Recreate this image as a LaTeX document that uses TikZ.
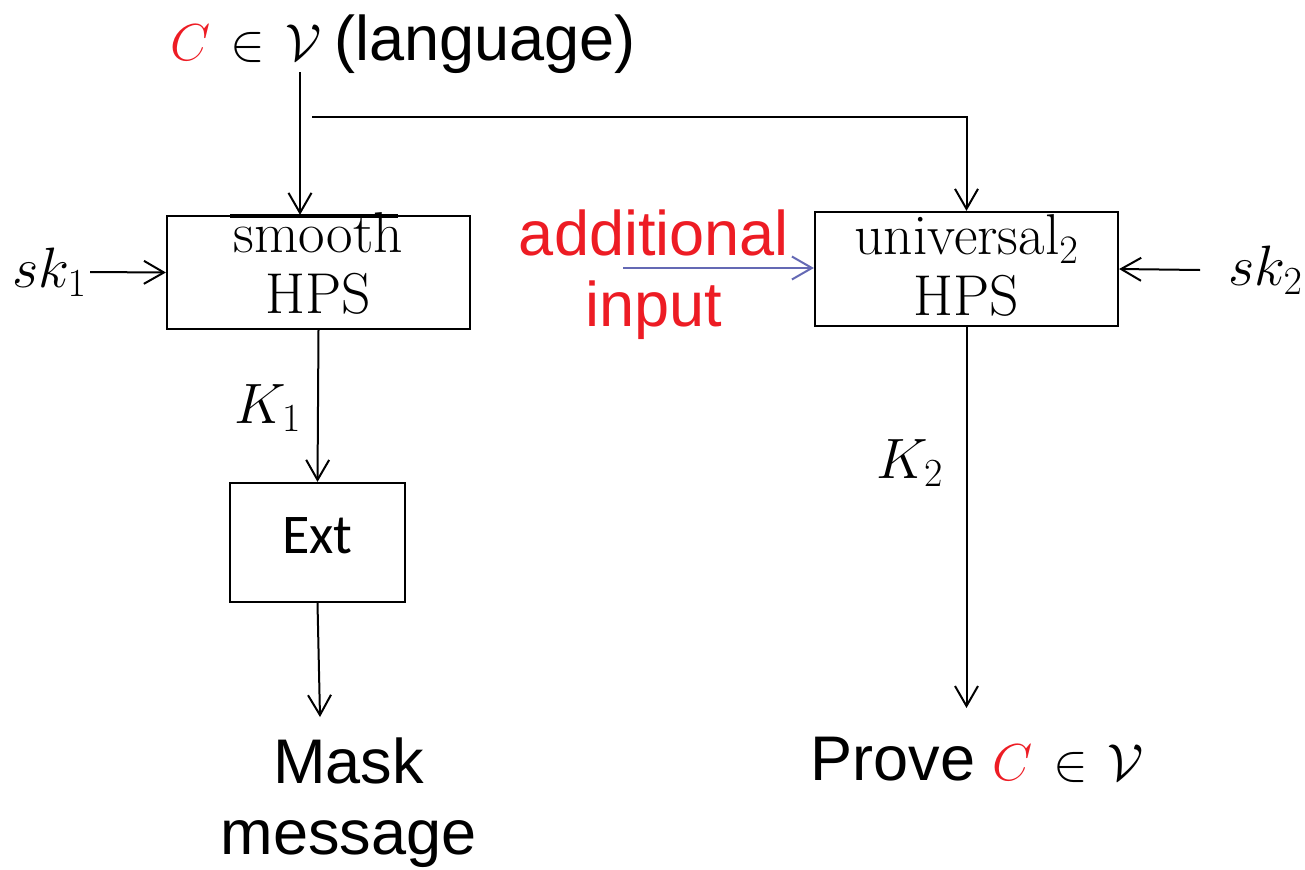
\RequirePackage{fix-cm}
\documentclass[tikz,border=0pt]{standalone}
\usepackage{amsmath}
\usepackage{fontspec}
\setsansfont{Liberation Sans}
\newfontfamily\extfont{Carlito}
\usetikzlibrary{arrows.meta}

\definecolor{hred}{RGB}{237,28,36}
\definecolor{hblue}{RGB}{100,105,180}
\newcommand{\bigsf}{\fontsize{35.9}{40.3}\selectfont\sffamily}
\newcommand{\boxfont}{\fontsize{32.8}{35}\selectfont}
\newcommand{\mth}{\fontsize{29.6}{35}\selectfont}
\newcommand{\keyfont}{\fontsize{32.4}{38}\selectfont}
\newcommand{\inlang}{{\mth${\color{hred}C}\mkern2mu\in\mkern2mu\mathcal{V}$}}

\begin{document}
\begin{tikzpicture}[x=0.02cm,y=-0.02cm,
        arr/.style={line width=0.4mm,
                        -{Straight Barb[length=4mm,width=4.6mm,line width=0.4mm]}},
        box/.style={draw, line width=0.45mm, inner sep=0pt, align=center, font=\boxfont},
        lbl/.style={inner sep=0pt, align=center, font=\bigsf}]
    \useasboundingbox (0,0) rectangle (1305,869);

    \node[lbl, anchor=base west] (lang) at (170,60)
        {\inlang\hspace{-0.1cm} (language)};

    \node[box, text height=1.9cm, text depth=0.24cm, minimum width=6.06cm,
        minimum height=2.26cm] (box1) at (318.5,272.5) {smooth\\HPS};
    \node[box, text depth=0.15cm, minimum width=6.06cm, minimum height=2.28cm]
        (box2) at (966.5,269) {universal$_2$\\HPS};
    \node[box, font=\fontsize{31.9}{38}\extfont, text depth=0.28cm,
        minimum width=3.5cm, minimum height=2.38cm] (ext) at (317.5,542.5) {Ext};
    \draw[line width=0.8mm] (230,216) -- (398,216);
    \draw[line width=0.55mm] (865,212) -- (1092,212);

    \node[inner xsep=0.06cm, inner ysep=0pt, font=\keyfont] (sk1) at (49.5,272) {$sk_1$};
    \node[inner xsep=0.56cm, inner ysep=0pt, anchor=west, font=\keyfont] (sk2) at (1200,270) {$sk_2$};
    \node[lbl, text=hred] (extra) at (654,275) {additional\\input};
    \node[inner sep=0pt, font=\keyfont] (k1) at (268,408) {$K_1$};
    \node[inner sep=0pt, font=\keyfont] (k2) at (910,463) {$K_2$};
    \node[lbl] (mask) at (348.5,803) {Mask\\message};
    \node[lbl, anchor=base west] (prove) at (810,780) {Prove \inlang};

    \coordinate (drop) at (300,72);
    \coordinate (tap) at (312,117);
    \coordinate (feed) at (623,268);
    \coordinate (maskin) at (320,717);
    \coordinate (provein) at (966.5,708);

    \draw[arr] (drop) -- (drop |- box1.north);
    \draw[arr] (tap) -| (box2.north);
    \draw[arr] (sk1.east) -- (box1.west);
    \draw[arr] (sk2.west) -- (box2.east);
    \draw[arr, hblue] (feed) -- (feed -| box2.west);
    \draw[arr] (box1.south) -- (ext.north);
    \draw[arr] (ext.south) -- (maskin);
    \draw[arr] (box2.south) -- (provein);
\end{tikzpicture}
\end{document}
